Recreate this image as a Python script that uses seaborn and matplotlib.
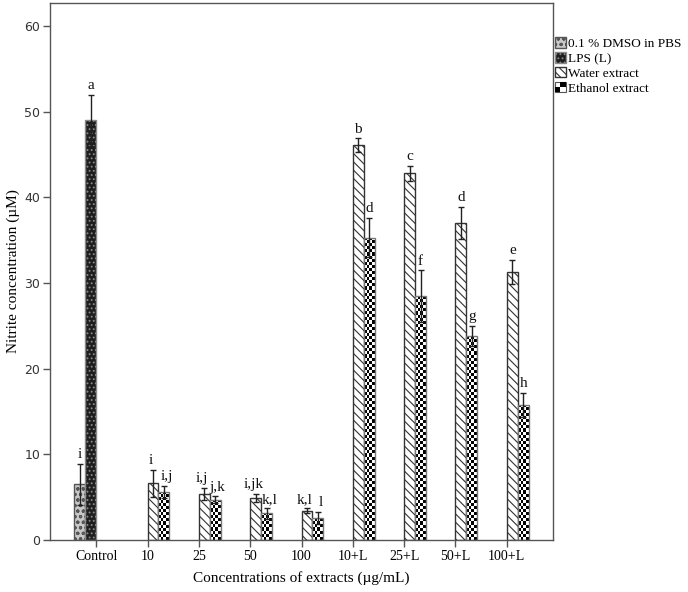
import numpy as np
import pandas as pd
import matplotlib
matplotlib.use("Agg")
import matplotlib.pyplot as plt
from matplotlib.patches import Patch, Rectangle
from matplotlib.legend_handler import HandlerBase
import seaborn as sns

# ---- data ----
groups = ["Control", "10", "25", "50", "100", "10+L", "25+L", "50+L", "100+L"]
treatments = ["0.1 % DMSO in PBS", "LPS (L)", "Water extract", "Ethanol extract"]

control_vals = [6.5, 49.0]
control_err = [2.4, 3.0]
control_lbl = ["i", "a"]

water_vals = [6.6, 5.4, 4.9, 3.4, 46.1, 42.8, 37.0, 31.3]
water_err = [1.6, 0.7, 0.5, 0.3, 0.8, 0.9, 1.9, 1.4]
water_lbl = ["i", "i,j", "i,jk", "k,l", "b", "c", "d", "e"]

ethanol_vals = [5.6, 4.7, 3.1, 2.6, 35.3, 28.5, 23.8, 15.8]
ethanol_err = [0.7, 0.4, 0.6, 0.7, 2.3, 3.0, 1.2, 1.4]
ethanol_lbl = ["i,j", "j,k", "k,l", "l", "d", "f", "g", "h"]

rows = []
for t, v, e, l in zip(treatments[:2], control_vals, control_err, control_lbl):
    rows.append(("Control", t, v, e, l))
for g, v, e, l in zip(groups[1:], water_vals, water_err, water_lbl):
    rows.append((g, treatments[2], v, e, l))
for g, v, e, l in zip(groups[1:], ethanol_vals, ethanol_err, ethanol_lbl):
    rows.append((g, treatments[3], v, e, l))
df = pd.DataFrame(rows, columns=["group", "treatment", "value", "err", "label"])

serif = ["Liberation Serif", "DejaVu Serif"]
plt.rcParams["hatch.linewidth"] = 0.8

fig = plt.figure(figsize=(6.88, 5.92), dpi=100)
ax = fig.add_axes([50 / 688, 52 / 592, 503 / 688, 537 / 592])

width = 0.85
sns.barplot(data=df, x="group", y="value", hue="treatment",
            order=groups, hue_order=treatments, width=width,
            errorbar=None, legend=False, ax=ax,
            palette=["#c8c8c8", "#1e1e1e", "white", "white"])

styles = {
    0: dict(hatch="ooo", edgecolor="#555555"),
    1: dict(hatch="....", edgecolor="#8a8a8a"),
    2: dict(hatch="\\\\\\\\", edgecolor="#333333"),
    3: dict(hatch="", edgecolor="#777777"),
}
nh = len(treatments)
bw = width / nh
cell = 0.36
for p in list(ax.patches):
    cx = p.get_x() + p.get_width() / 2
    slot = int(round((cx - round(cx)) / bw + (nh - 1) / 2))
    p.set_hatch(styles[slot]["hatch"])
    p.set_edgecolor(styles[slot]["edgecolor"])
    p.set_linewidth(1.0)
    if slot == 3:
        # checkerboard fill clipped to the bar
        x0, w, h = p.get_x(), p.get_width(), p.get_height()
        ny = max(1, int(round(h / cell)))
        cells = np.indices((ny, 4)).sum(axis=0) % 2
        im = ax.imshow(cells, cmap="gray_r", extent=(x0, x0 + w, 0, ny * cell),
                       origin="lower", aspect="auto", interpolation="nearest",
                       zorder=p.get_zorder() + 0.1)
        im.set_clip_path(p)
        p.set_facecolor("none")
        p.set_zorder(p.get_zorder() + 0.2)

# error bars and letters
for _, r in df.iterrows():
    gi = groups.index(r["group"])
    ti = treatments.index(r["treatment"])
    x = gi + (ti - (nh - 1) / 2) * bw
    ax.errorbar(x, r["value"], yerr=r["err"], fmt="none", ecolor="#222222",
                elinewidth=1.0, capsize=2, capthick=1.0, zorder=5)
    shift = 0.0
    if r["value"] < 10 and ti == 2:
        shift = -0.04
    elif r["value"] < 10 and ti == 3:
        shift = 0.05
    ax.text(x + shift, r["value"] + r["err"] + 0.3, r["label"], ha="center", va="bottom",
            fontsize=11, family=serif, color="#111111")

ax.set_xlim(-0.9, 8.9)
ax.set_ylim(0, 62.7)
ax.set_yticks(range(0, 61, 10))
ax.set_xticks(range(len(groups)))
ax.set_xticklabels(groups, family=serif, fontsize=10)
for t in ax.get_yticklabels():
    t.set_family(["DejaVu Sans"])
    t.set_fontsize(9)
    t.set_color("#333333")
ax.tick_params(axis="both", length=5, width=1, color="#555555", pad=2)

for s in ax.spines.values():
    s.set_visible(True)
    s.set_color("#555555")
    s.set_linewidth(1.0)

ax.set_xlabel("Concentrations of extracts (\u00b5g/mL)", family=serif, fontsize=11, labelpad=6)
ax.set_ylabel("Nitrite concentration (\u00b5M)", family=serif, fontsize=11, labelpad=3)


class CheckerHandler(HandlerBase):
    def create_artists(self, legend, orig_handle, xd, yd, width, height, fontsize, trans):
        hw, hh = width / 2, height / 2
        arts = [Rectangle((-xd, -yd), width, height, facecolor="white",
                          edgecolor="#555555", lw=0.8, transform=trans)]
        for dx, dy in [(1, 1), (0, 0)]:
            arts.append(Rectangle((-xd + dx * hw, -yd + dy * hh), hw, hh,
                                  facecolor="black", edgecolor="none", transform=trans))
        return arts


handles = [
    Patch(facecolor="#c8c8c8", edgecolor="#555555", hatch="ooo"),
    Patch(facecolor="#1e1e1e", edgecolor="#8a8a8a", hatch="...."),
    Patch(facecolor="white", edgecolor="#333333", hatch="\\\\\\\\"),
    Patch(facecolor="white"),
]
fig.legend(handles, treatments, loc="upper left", bbox_to_anchor=(0.806, 0.937),
           frameon=False, prop={"family": serif, "size": 9.5},
           handlelength=0.85, handleheight=0.85, handletextpad=0.2,
           labelspacing=0.15, borderpad=0, borderaxespad=0,
           handler_map={handles[3]: CheckerHandler()})

fig.savefig("out.png", dpi=100)
